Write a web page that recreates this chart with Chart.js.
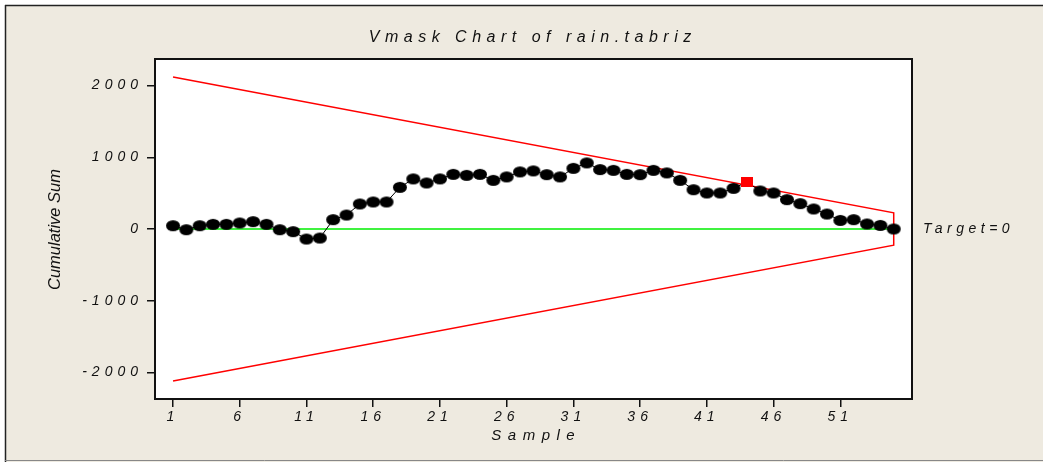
<!DOCTYPE html>
<html>
<head>
<meta charset="utf-8">
<script src="https://cdn.jsdelivr.net/npm/chart.js@4.4.1/dist/chart.umd.min.js"></script>
<style>
html,body{margin:0;padding:0;background:#fff;}
canvas{display:block;}
</style>
</head>
<body>
<canvas id="c" width="1043" height="462"></canvas>
<script>
// ---- data ----
const samples = [1,2,3,4,5,6,7,8,9,10,11,12,13,14,15,16,17,18,19,20,21,22,23,24,25,26,27,28,29,30,31,32,33,34,35,36,37,38,39,40,41,42,43,44,45,46,47,48,49,50,51,52,53,54,55];
const cusum = [46,-10,46,65,65,84,102,65,-10,-37,
               -140,-126,130,195,349,377,377,581,698,642,
               698,762,748,762,678,726,796,810,758,726,
               846,921,828,818,762,758,818,782,678,548,
               502,502,567,656,530,502,409,353,279,209,
               120,130,70,50,0];
const flaggedSamples = [44];
const vmaskX = [1,55,55,1];
const vmaskY = [2120,225,-225,-2120];
const targetX = [1,55];
const targetY = [0,0];
const xTicks = [1,6,11,16,21,26,31,36,41,46,51];
const yTicks = [-2000,-1000,0,1000,2000];
const titleText = 'Vmask Chart of rain.tabriz';
const xTitle = 'Sample';
const yTitle = 'Cumulative Sum';
const targetLabel = 'Target=0';

const FONT = '"Liberation Sans", Arial, sans-serif';

// point glyphs
function makeEllipse(){
  const c = document.createElement('canvas');
  c.width = 16; c.height = 13;
  const g = c.getContext('2d');
  g.fillStyle = '#000';
  g.beginPath();
  g.ellipse(8, 6.5, 7, 5.5, 0, 0, Math.PI*2);
  g.fill();
  return c;
}
function makeSquare(){
  const c = document.createElement('canvas');
  c.width = 12; c.height = 10;
  const g = c.getContext('2d');
  g.fillStyle = '#FF0000';
  g.fillRect(0,0,12,10);
  return c;
}
const ellipseImg = makeEllipse();
const squareImg = makeSquare();

function pts(xs, ys){ return xs.map((x,i)=>({x:x, y:ys[i]})); }

function spacedText(ctx, text, x, y, spacing, align){
  ctx.letterSpacing = spacing + 'px';
  ctx.textAlign = align;
  let dx = 0;
  if (align === 'center') dx = spacing/2;
  else if (align === 'right') dx = spacing;
  ctx.fillText(text, x + dx, y);
}

const decor = {
  id: 'decor',
  beforeDraw(chart){
    const ctx = chart.ctx, W = chart.width, H = chart.height, a = chart.chartArea;
    ctx.save();
    ctx.fillStyle = '#ffffff';
    ctx.fillRect(0,0,W,H);
    ctx.fillStyle = '#EEEAE0';
    ctx.fillRect(5,5,W-5,H-5);
    ctx.strokeStyle = '#222';
    ctx.lineWidth = 1.5;
    ctx.beginPath();
    ctx.moveTo(5,5.5); ctx.lineTo(W,5.5);
    ctx.moveTo(5.5,5); ctx.lineTo(5.5,H);
    ctx.stroke();
    ctx.strokeStyle = '#888';
    ctx.lineWidth = 1;
    ctx.beginPath();
    ctx.moveTo(5,460.5); ctx.lineTo(W,460.5);
    ctx.stroke();
    ctx.fillStyle = '#ffffff';
    ctx.fillRect(a.left, a.top, a.right-a.left, a.bottom-a.top);
    ctx.restore();
    ctx.letterSpacing = '5px';
  },
  afterDraw(chart){
    const ctx = chart.ctx, a = chart.chartArea;
    const ys = chart.scales.y;
    ctx.save();
    ctx.strokeStyle = '#111';
    ctx.lineWidth = 2;
    ctx.strokeRect(a.left, a.top, a.right-a.left, a.bottom-a.top);
    ctx.fillStyle = '#111';
    ctx.textBaseline = 'middle';
    ctx.font = 'italic 16px ' + FONT;
    spacedText(ctx, titleText, 530, 38, 5.5, 'center');
    ctx.font = 'italic 15px ' + FONT;
    spacedText(ctx, xTitle, 533, 436, 6.5, 'center');
    ctx.font = 'italic 14px ' + FONT;
    spacedText(ctx, targetLabel, a.right + 11, ys.getPixelForValue(0), 4.5, 'left');
    ctx.save();
    ctx.translate(55, 229.5);
    ctx.rotate(-Math.PI/2);
    ctx.font = 'italic 16.5px ' + FONT;
    spacedText(ctx, yTitle, 0, 0, 0, 'center');
    ctx.restore();
    ctx.restore();
    ctx.letterSpacing = '0px';
  }
};

const tickFont = {family: FONT, size: 14, style: 'italic'};

new Chart(document.getElementById('c'), {
  type: 'scatter',
  data: {
    datasets: [
      {
        label: 'cusum',
        data: pts(samples, cusum),
        showLine: true,
        borderColor: '#000',
        borderWidth: 1,
        pointRadius: 6,
        pointHoverRadius: 6,
        pointStyle: (c) => flaggedSamples.includes(samples[c.dataIndex]) ? squareImg : ellipseImg,
        order: 0
      },
      {
        label: 'vmask',
        data: pts(vmaskX, vmaskY),
        showLine: true,
        borderColor: '#FF0000',
        borderWidth: 1.5,
        pointRadius: 0,
        order: 1
      },
      {
        label: 'target',
        data: pts(targetX, targetY),
        showLine: true,
        borderColor: '#00EE00',
        borderWidth: 1.5,
        pointRadius: 0,
        order: 2
      }
    ]
  },
  options: {
    responsive: false,
    animation: false,
    devicePixelRatio: 1,
    layout: {padding: {left: 0, top: 59, right: 131, bottom: 0}},
    plugins: {legend: {display: false}, tooltip: {enabled: false}, title: {display: false}},
    scales: {
      x: {
        type: 'linear',
        min: -0.35,
        max: 56.37,
        afterBuildTicks: (s) => { s.ticks = xTicks.map(v => ({value: v})); },
        afterFit: (s) => { s.height = 63; },
        ticks: {font: tickFont, color: '#111', maxRotation: 0, autoSkip: false, padding: 2,
                callback: (v) => String(v)},
        grid: {drawOnChartArea: false, drawTicks: true, tickLength: 8, color: '#111', lineWidth: 1.5},
        border: {display: true, color: '#111', width: 2}
      },
      y: {
        type: 'linear',
        min: -2370,
        max: 2370,
        afterBuildTicks: (s) => { s.ticks = yTicks.map(v => ({value: v})); },
        afterFit: (s) => { s.width = 155; },
        ticks: {font: tickFont, color: '#111', padding: 4, callback: (v) => String(v)},
        grid: {drawOnChartArea: false, drawTicks: true, tickLength: 8, color: '#111', lineWidth: 1.5},
        border: {display: true, color: '#111', width: 2}
      }
    }
  },
  plugins: [decor]
});
</script>
</body>
</html>
